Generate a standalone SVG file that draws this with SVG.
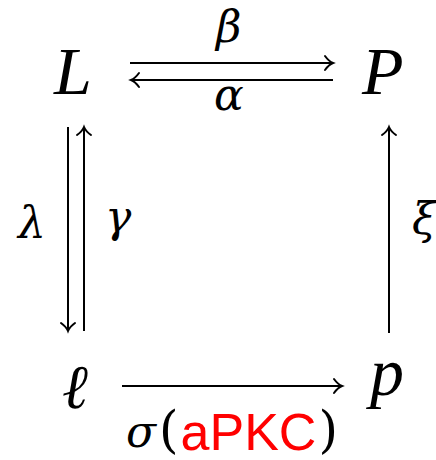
<svg xmlns="http://www.w3.org/2000/svg" width="436" height="460" viewBox="0 0 436 460">
<style>
.m{font-family:"Liberation Serif","DejaVu Serif",serif;font-style:italic;fill:#000}
.g{font-family:"DejaVu Serif","Liberation Serif",serif;font-style:italic;fill:#000}
.n{font-size:68px}
.l{font-size:44px}
.r{font-family:"Liberation Sans",Arial,sans-serif;fill:#ff0000;font-style:normal}
.c{stroke:#000;stroke-width:2;fill:none}
</style>
<defs>
<marker id="ah" markerUnits="userSpaceOnUse" markerWidth="20" markerHeight="20" viewBox="-12 -10 14 20" refX="0" refY="0" orient="auto">
<path d="M-8,-7 Q-4,-1.5 0,0 Q-4,1.5 -8,7" fill="none" stroke="#000" stroke-width="2" stroke-linecap="round"/>
</marker>
</defs>
<rect width="436" height="460" fill="#fff"/>
<g id="node-L"><text class="m n" x="54" y="94">L</text></g>
<g id="node-P"><text class="m n" x="362" y="94">P</text></g>
<g id="node-l"><text class="g" font-size="62" x="62" y="408">ℓ</text></g>
<g id="node-p"><text class="m n" x="370" y="395">p</text></g>
<g id="connectors">
<line class="c" x1="130" y1="63" x2="333" y2="63" marker-end="url(#ah)"/>
<line class="c" x1="333" y1="80" x2="131" y2="80" marker-end="url(#ah)"/>
<line class="c" x1="68" y1="127" x2="68" y2="331" marker-end="url(#ah)"/>
<line class="c" x1="84" y1="331" x2="84" y2="127" marker-end="url(#ah)"/>
<line class="c" x1="389" y1="333" x2="389" y2="127" marker-end="url(#ah)"/>
<line class="c" x1="122" y1="386" x2="342" y2="386" marker-end="url(#ah)"/>
<text class="g l" x="216" y="42">β</text>
<text class="g l" x="214" y="110">α</text>
<text class="g l" x="18" y="238">λ</text>
<text class="g l" x="105" y="232">γ</text>
<text class="g l" x="412" y="234">ξ</text>
<text class="g l" x="126" y="447">σ<tspan style="font-style:normal" font-size="50" dx="3">(</tspan><tspan class="r" font-size="52" dy="3" dx="2">aPKC</tspan><tspan style="font-style:normal" font-size="50" dy="-3" dx="2">)</tspan></text>
</g>
</svg>
